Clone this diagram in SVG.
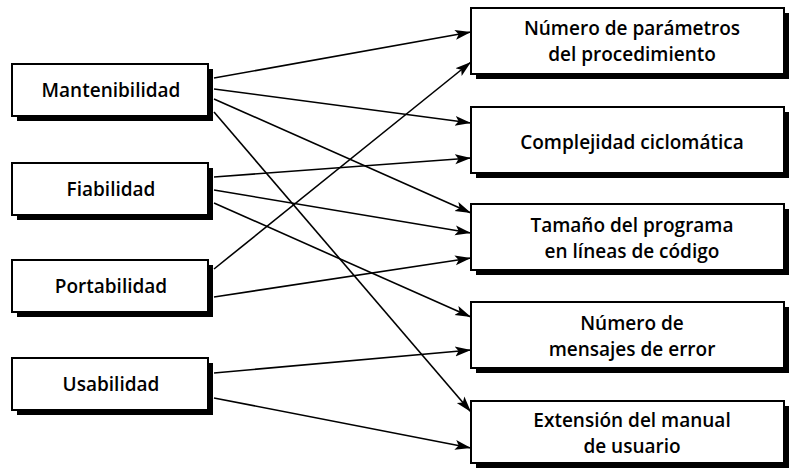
<svg xmlns="http://www.w3.org/2000/svg" width="790" height="470" viewBox="0 0 790 470">
<style>
.box{fill:#fff;stroke:#000;stroke-width:2}
.sh{fill:#000}
.t{font-family:"Open Sans","Noto Sans",sans-serif;font-weight:600;font-size:19px;fill:#000;text-anchor:middle}
.c{stroke:#000;stroke-width:1.6;fill:none;marker-end:url(#ah)}
</style>
<defs>
<marker id="ah" markerUnits="userSpaceOnUse" markerWidth="18" markerHeight="14" refX="16" refY="7" orient="auto">
<path d="M0,2 L16,7 L0,12 L3.5,7 z" fill="#000"/>
</marker>
</defs>
<rect width="790" height="470" fill="#fff"/>
<g id="mantenibilidad">
<rect class="sh" x="17" y="69" width="196" height="52"/>
<rect class="box" x="12" y="64" width="196" height="52"/>
<text class="t" x="111" y="97">Mantenibilidad</text>
</g>
<g id="fiabilidad">
<rect class="sh" x="17" y="168" width="196" height="52"/>
<rect class="box" x="12" y="163" width="196" height="52"/>
<text class="t" x="111" y="196">Fiabilidad</text>
</g>
<g id="portabilidad">
<rect class="sh" x="17" y="265" width="196" height="52"/>
<rect class="box" x="12" y="260" width="196" height="52"/>
<text class="t" x="111" y="293">Portabilidad</text>
</g>
<g id="usabilidad">
<rect class="sh" x="17" y="363" width="196" height="52"/>
<rect class="box" x="12" y="358" width="196" height="52"/>
<text class="t" x="111" y="391">Usabilidad</text>
</g>
<g id="parametros">
<rect class="sh" x="476" y="13" width="313" height="66"/>
<rect class="box" x="471" y="8" width="313" height="66"/>
<text class="t" x="632" y="35">Número de parámetros</text>
<text class="t" x="632" y="61">del procedimiento</text>
</g>
<g id="complejidad">
<rect class="sh" x="476" y="112" width="313" height="66"/>
<rect class="box" x="471" y="107" width="313" height="66"/>
<text class="t" x="632" y="149">Complejidad ciclomática</text>
</g>
<g id="tamano">
<rect class="sh" x="476" y="209" width="313" height="66"/>
<rect class="box" x="471" y="204" width="313" height="66"/>
<text class="t" x="632" y="232">Tamaño del programa</text>
<text class="t" x="632" y="258">en líneas de código</text>
</g>
<g id="mensajes">
<rect class="sh" x="476" y="307" width="313" height="66"/>
<rect class="box" x="471" y="302" width="313" height="66"/>
<text class="t" x="632" y="330">Número de</text>
<text class="t" x="632" y="356">mensajes de error</text>
</g>
<g id="extension">
<rect class="sh" x="476" y="406" width="313" height="62"/>
<rect class="box" x="471" y="401" width="313" height="62"/>
<text class="t" x="632" y="427">Extensión del manual</text>
<text class="t" x="632" y="453">de usuario</text>
</g>
<g id="connectors">
<line class="c" x1="214" y1="78" x2="471" y2="32"/>
<line class="c" x1="214" y1="89" x2="471" y2="123"/>
<line class="c" x1="214" y1="99" x2="471" y2="213"/>
<line class="c" x1="214" y1="112" x2="471" y2="412"/>
<line class="c" x1="214" y1="177" x2="471" y2="158"/>
<line class="c" x1="214" y1="190" x2="471" y2="233"/>
<line class="c" x1="214" y1="203" x2="471" y2="317"/>
<line class="c" x1="214" y1="269" x2="471" y2="62"/>
<line class="c" x1="214" y1="297" x2="471" y2="258"/>
<line class="c" x1="214" y1="373" x2="471" y2="350"/>
<line class="c" x1="214" y1="398" x2="471" y2="448"/>
</g>
</svg>
